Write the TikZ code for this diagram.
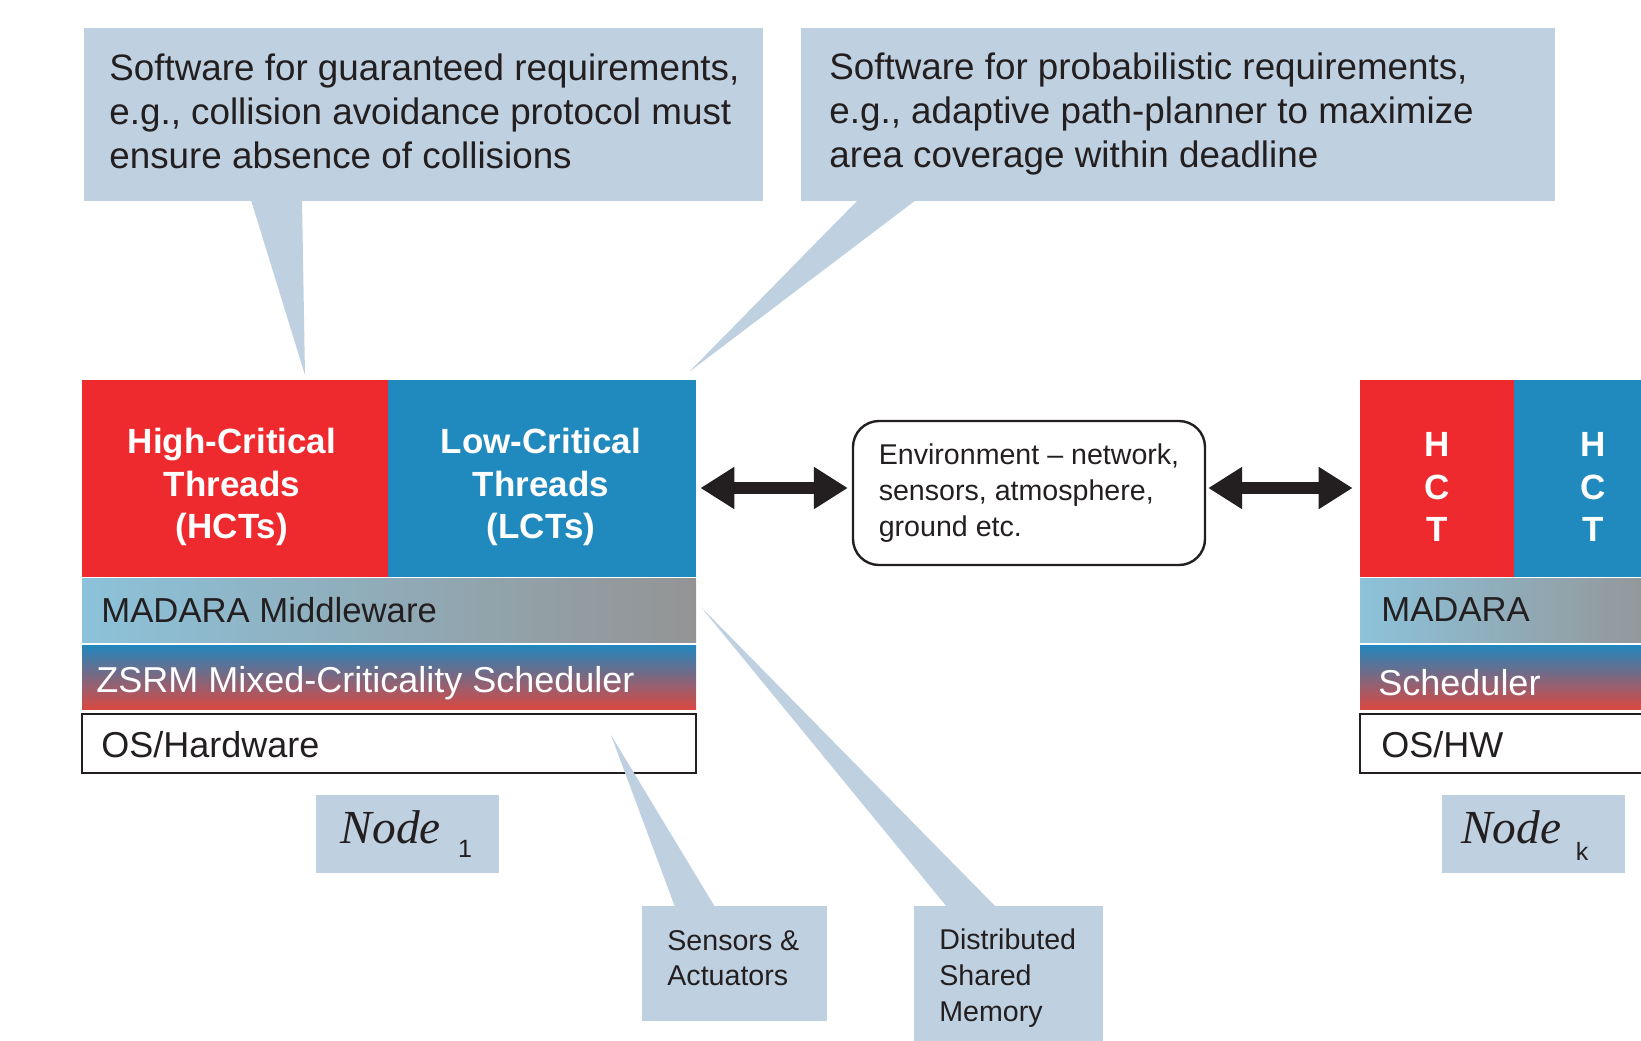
\documentclass[tikz,border=0pt]{standalone}
\usepackage{fontspec}
\setmainfont{Liberation Sans}
\newfontfamily\labelfont{Liberation Serif}
\usetikzlibrary{arrows.meta,fit,positioning}

\definecolor{hctred}{RGB}{238,42,47}
\definecolor{lctblue}{RGB}{32,138,190}
\definecolor{calloutblue}{RGB}{191,208,224}
\definecolor{mwleft}{RGB}{140,194,218}
\definecolor{mwright}{RGB}{148,148,148}
\definecolor{schedtop}{RGB}{33,135,190}
\definecolor{schedbot}{RGB}{218,72,66}
\definecolor{ink}{RGB}{35,31,32}

\tikzstyle{callout}    = [fill=calloutblue, draw=none, inner sep=0pt]
\tikzstyle{block}      = [inner sep=0pt]
\tikzstyle{blocktext}  = [inner sep=0pt, text=white, align=center, font=\fontsize{17.5}{21.3}\selectfont\bfseries]
\tikzstyle{layertext}  = [anchor=west, inner sep=0pt, font=\fontsize{18}{22}\selectfont]
\tikzstyle{bubbletext} = [anchor=west, inner sep=0pt, align=left, text=ink, font=\fontsize{18.4}{22}\selectfont]
\tikzstyle{smalltext}  = [anchor=west, inner sep=0pt, align=left, text=ink, font=\fontsize{14.3}{17.8}\selectfont]
\tikzstyle{nodename}   = [inner sep=0pt, text=ink, font=\labelfont\itshape\fontsize{23.7}{26}\selectfont]
\tikzstyle{nodeidx}    = [inner sep=0pt, text=ink, font=\fontsize{12.5}{14}\selectfont]
\tikzstyle{envbox}     = [draw=ink, line width=1.2pt, rounded corners=13pt, fill=white, minimum width=176pt, minimum height=72pt, align=left, text=ink, font=\fontsize{14.3}{17.8}\selectfont]
\tikzstyle{oslayer}    = [draw=ink, line width=1.2pt, fill=white]
\tikzstyle{dblarrow}   = [line width=6pt, draw=ink, {Triangle[length=17pt,width=20pt]}-{Triangle[length=17pt,width=20pt]}]

\begin{document}
\begin{tikzpicture}[x=0.5pt,y=-0.5pt]
	\useasboundingbox (0,0) rectangle (1641,1040);
	\clip (0,0) rectangle (1641,1040);

	% speech bubbles on top
	\node[callout, fit={(84,28) (763,201)}] (hardbox) {};
	\fill[callout] (251,200) -- (302,200) -- (305,375) -- cycle;
	\node[bubbletext] (hardtext) at (109,111) {Software for guaranteed requirements,\\e.g., collision avoidance protocol must\\ensure absence of collisions};

	\node[callout, fit={(801,28) (1555,201)}] (softbox) {};
	\fill[callout] (858,200) -- (916,200) -- (689,372) -- cycle;
	\node[bubbletext] (softtext) at (829,114) {Software for probabilistic requirements,\\e.g., adaptive path-planner to maximize\\area coverage within deadline};

	% node 1
	\node[block, fill=hctred, fit={(82,380) (388,577)}] (hct) {};
	\node[block, fill=lctblue, fit={(388,380) (696,577)}] (lct) {};
	\node[blocktext] (hcttext) at (232,487) {High-Critical\\Threads\\(HCTs)};
	\node[blocktext] (lcttext) at (541,487) {Low-Critical\\Threads\\(LCTs)};

	\shade[left color=mwleft, right color=mwright] (82,578) rectangle (696,642);
	\node[layertext, text=ink, font=\fontsize{17.35}{21}\selectfont] (mw) at (101,610) {MADARA Middleware};

	\shade[top color=schedtop, bottom color=schedbot] (82,645) rectangle (696,709);
	\node[layertext, text=white] (sched) at (96,683) {ZSRM Mixed-Criticality Scheduler};

	\draw[oslayer] (82,714) rectangle (696,773);
	\node[layertext, text=ink] (os) at (101,745) {OS/Hardware};

	\node[callout, fit={(316,795) (499,873)}] (node1box) {};
	\node[nodename] (node1name) at (391,827) {Node};
	\node[nodeidx] (node1idx) at (465,849) {1};

	% environment in the middle
	\node[envbox] (env) at (1029,493) {Environment -- network,\\sensors, atmosphere,\\ground etc.};

	% node k, cut at the right border
	\node[block, fill=hctred, fit={(1360,380) (1514,577)}] (hctk) {};
	\node[block, fill=lctblue, fit={(1514,380) (1668,577)}] (lctk) {};
	\node[blocktext] (hctktext) at (1437,487) {H\\C\\T};
	\node[blocktext] (lctktext) at (1593,487) {H\\C\\T};

	\shade[left color=mwleft, right color=mwright] (1360,578) rectangle (1668,642);
	\node[layertext, text=ink, font=\fontsize{17.35}{21}\selectfont] (mwk) at (1381,610) {MADARA};

	\shade[top color=schedtop, bottom color=schedbot] (1360,645) rectangle (1668,709);
	\node[layertext, text=white] (schedk) at (1378,683) {Scheduler};

	\draw[oslayer] (1360,714) rectangle (1690,773);
	\node[layertext, text=ink] (osk) at (1381,745) {OS/HW};

	\node[callout, fit={(1442,795) (1625,873)}] (nodekbox) {};
	\node[nodename] (nodekname) at (1511,827) {Node};
	\node[nodeidx] (nodekidx) at (1582,851) {k};

	% arrows to and from the environment
	\coordinate (arrowL) at ([yshift=2.5pt]env.west);
	\coordinate (arrowR) at ([yshift=2.5pt]env.east);
	\draw[dblarrow, shorten <=2pt, shorten >=2pt] (arrowL -| lct.east) -- (arrowL);
	\draw[dblarrow, shorten <=1pt, shorten >=3.5pt] (arrowR) -- (arrowR -| hctk.west);

	% bubbles at the bottom
	\node[callout, fit={(642,906) (827,1021)}] (sensbox) {};
	\fill[callout] (675,907) -- (715,907) -- (611,735) -- cycle;
	\node[smalltext] (senstext) at (667,958) {Sensors \&\\Actuators};

	\node[callout, fit={(914,906) (1103,1045)}] (dsmbox) {};
	\fill[callout] (947,907) -- (996,907) -- (701,607) -- cycle;
	\node[smalltext] (dsmtext) at (939,978) {Distributed\\Shared\\Memory};
\end{tikzpicture}
\end{document}
